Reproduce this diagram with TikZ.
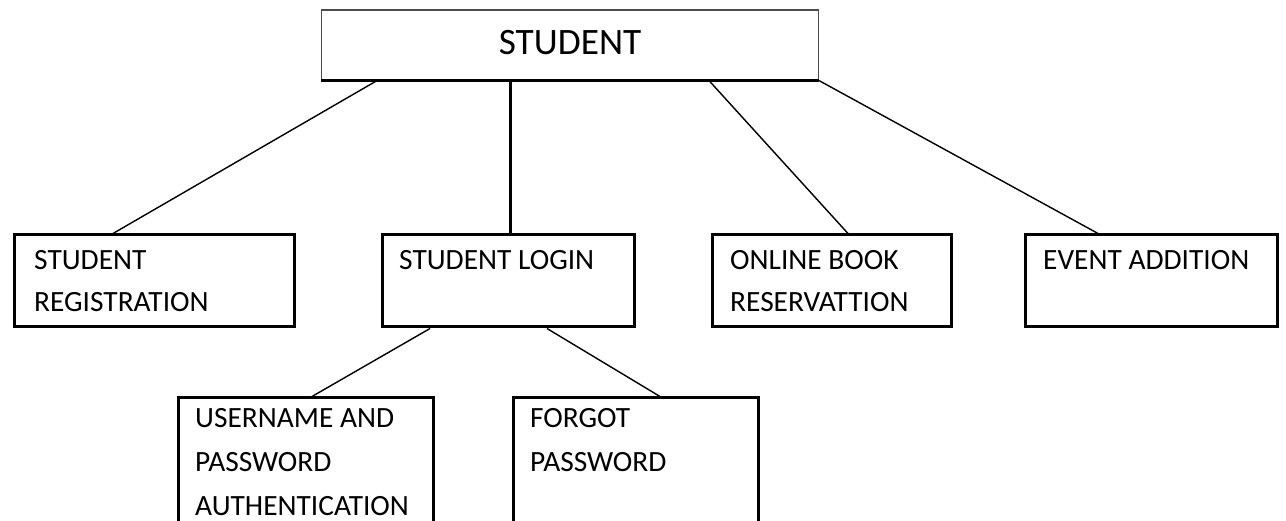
\documentclass[tikz,border=0pt]{standalone}
\usepackage{fontspec}
\setmainfont{Carlito}
\begin{document}
\begin{tikzpicture}[x=1pt,y=-1pt,
  box/.style={draw=black,line width=3pt,rectangle,inner sep=0pt,anchor=north west},
  topbox/.style={draw=black!70,line width=1.1pt,rectangle,inner sep=0pt,anchor=north west},
  txt/.style={inner sep=0pt,anchor=base west,font=\fontsize{29.4}{34}\selectfont},
  toptxt/.style={inner sep=0pt,anchor=base,font=\fontsize{37.3}{44}\selectfont},
  link/.style={line width=1.4pt},
  trunk/.style={line width=3pt}]
\clip (0,0) rectangle (1286,521);
\fill[white] (0,0) rectangle (1286,521);
% boxes
\node[topbox,minimum width=497pt,minimum height=70pt] (top) at (321,9.5) {};
\draw[line width=3pt] (top.south west) -- (top.south east);
\node[box,minimum width=280pt,minimum height=92pt] (reg) at (12.5,233.5) {};
\node[box,minimum width=252pt,minimum height=92pt] (login) at (380.5,233.5) {};
\node[box,minimum width=239pt,minimum height=92pt] (online) at (710.5,233.5) {};
\node[box,minimum width=252pt,minimum height=92pt] (event) at (1023.5,233.5) {};
\node[box,minimum width=255pt,minimum height=150pt] (user) at (176.5,396.5) {};
\node[box,minimum width=245pt,minimum height=150pt] (forgot) at (511.5,396.5) {};
% texts
\node[toptxt] (toplbl) at ([yshift=-45.5pt]top.north) {STUDENT};
\node[txt] (reg1) at ([xshift=21.5pt,yshift=-36.5pt]reg.north west) {STUDENT};
\node[txt] (reg2) at ([xshift=21.5pt,yshift=-78.5pt]reg.north west) {REGISTRATION};
\node[txt] (login1) at ([xshift=18.5pt,yshift=-36.5pt]login.north west) {STUDENT LOGIN};
\node[txt] (online1) at ([xshift=19.5pt,yshift=-36.5pt]online.north west) {ONLINE BOOK};
\node[txt] (online2) at ([xshift=19.5pt,yshift=-78.5pt]online.north west) {RESERVATTION};
\node[txt] (event1) at ([xshift=19.5pt,yshift=-36.5pt]event.north west) {EVENT ADDITION};
\node[txt] (user1) at ([xshift=18.5pt,yshift=-31pt]user.north west) {USERNAME AND};
\node[txt] (user2) at ([xshift=18.5pt,yshift=-75pt]user.north west) {PASSWORD};
\node[txt] (user3) at ([xshift=18.5pt,yshift=-118.5pt]user.north west) {AUTHENTICATION};
\node[txt] (forgot1) at ([xshift=18.5pt,yshift=-31pt]forgot.north west) {FORGOT};
\node[txt] (forgot2) at ([xshift=18.5pt,yshift=-75pt]forgot.north west) {PASSWORD};
% connectors
\draw[link] ([xshift=56pt]top.south west) -- ([xshift=100.5pt]reg.north west);
\draw[trunk] ([xshift=189pt]top.south west) -- ([xshift=129.5pt]login.north west);
\draw[link] ([xshift=388pt]top.south west) -- ([xshift=137.5pt]online.north west);
\draw[link] (top.south east) -- ([xshift=74.5pt]event.north west);
\draw[link] ([xshift=49.5pt]login.south west) -- ([xshift=135.5pt]user.north west);
\draw[link] ([xshift=166.5pt]login.south west) -- ([xshift=148.5pt]forgot.north west);
\end{tikzpicture}
\end{document}
